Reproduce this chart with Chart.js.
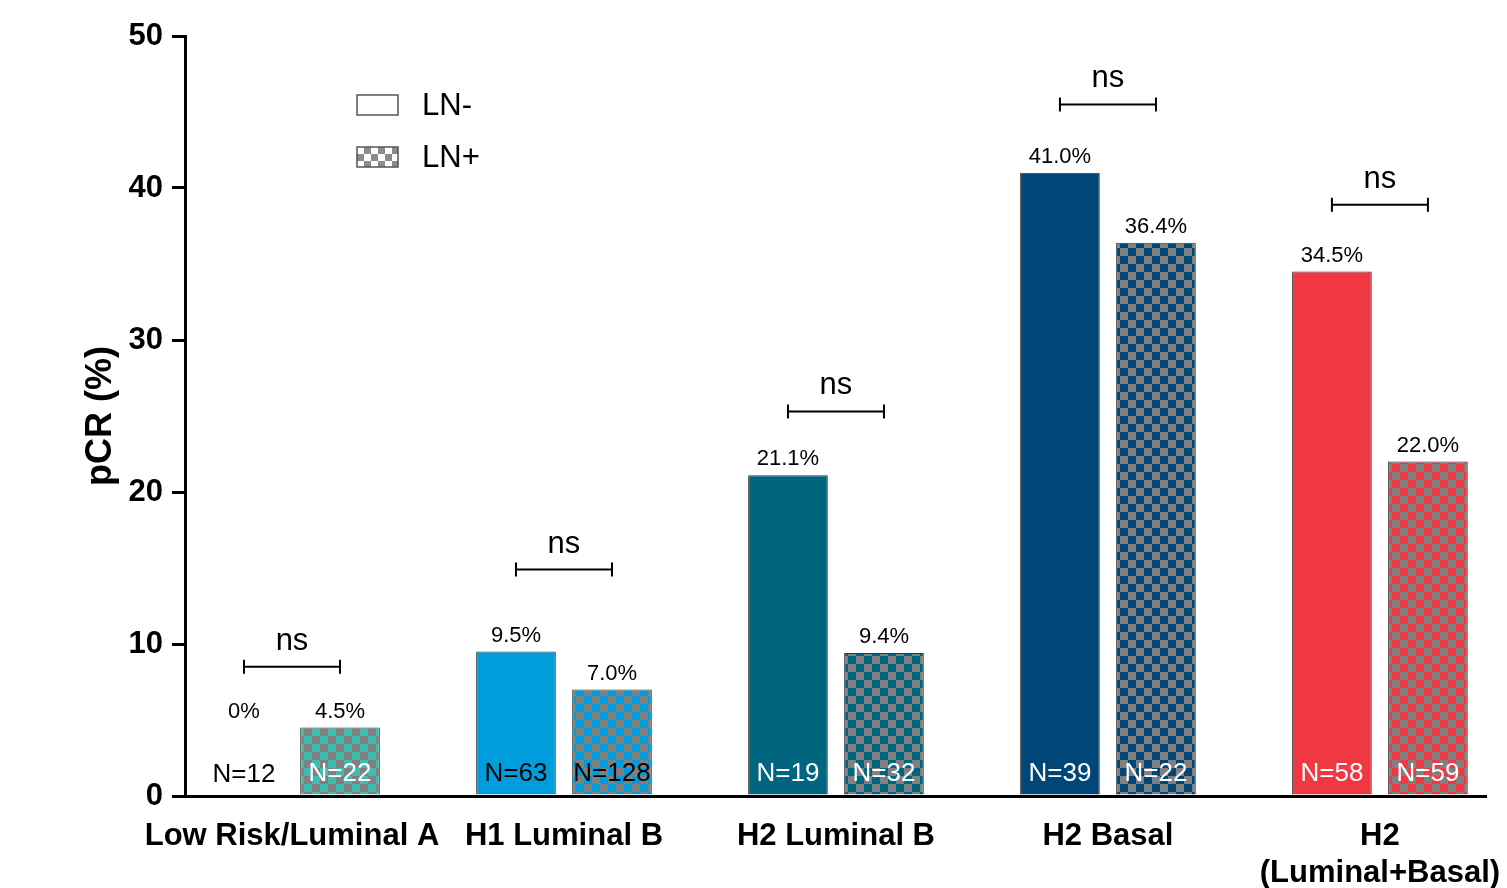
<!DOCTYPE html>
<html>
<head>
<meta charset="utf-8">
<title>pCR by subtype and LN status</title>
<script src="https://cdn.jsdelivr.net/npm/chart.js@4.4.1/dist/chart.umd.min.js"></script>
<style>
  html, body { margin: 0; padding: 0; background: #ffffff; }
  #chart-pcr { display: block; }
</style>
</head>
<body>
<canvas id="chart-pcr" width="1507" height="888"></canvas>
<script>
// Categories (x axis groups)
const categories = ['Low Risk/Luminal A', 'H1 Luminal B', 'H2 Luminal B', 'H2 Basal', ['H2', '(Luminal+Basal)']];

// pCR (%) per group
const lnNegValues = [0, 9.5, 21.1, 41.0, 34.5];
const lnPosValues = [4.5, 7.0, 9.4, 36.4, 22.0];

// Patients per bar
const lnNegCounts = [12, 63, 19, 39, 58];
const lnPosCounts = [22, 128, 32, 22, 59];

// Significance brackets (label + height in pCR units)
const sigLabels = ['ns', 'ns', 'ns', 'ns', 'ns'];
const sigHeights = [8.5, 14.9, 25.3, 45.5, 38.9];

// Y axis ticks
const yTicks = [0, 10, 20, 30, 40, 50];

// Group colours and N label colours
const groupColors = ['#3fbcb0', '#009ddc', '#00657f', '#004677', '#ef3842'];
const lnNegCountColors = ['#000000', '#000000', '#ffffff', '#ffffff', '#ffffff'];
const lnPosCountColors = ['#ffffff', '#000000', '#ffffff', '#ffffff', '#ffffff'];

const checkerGray = '#808080';
const fontFamily = "'Liberation Sans', Arial, Helvetica, sans-serif";

/**
 * Builds a checkerboard fill (colour squares on grey)
 */
function makeChecker(color, gray, cell) {
  const tile = document.createElement('canvas');
  tile.width = cell * 2;
  tile.height = cell * 2;
  const t = tile.getContext('2d');
  t.fillStyle = gray;
  t.fillRect(0, 0, cell * 2, cell * 2);
  t.fillStyle = color;
  t.fillRect(0, 0, cell, cell);
  t.fillRect(cell, cell, cell, cell);
  return document.getElementById('chart-pcr').getContext('2d').createPattern(tile, 'repeat');
}

function formatPct(v) {
  return v === 0 ? '0%' : v.toFixed(1) + '%';
}

// Value labels, N labels and significance brackets
const annotationPlugin = {
  id: 'annotations',
  afterDatasetsDraw(chart) {
    const ctx = chart.ctx;
    const yScale = chart.scales.y;
    const negBars = chart.getDatasetMeta(0).data;
    const posBars = chart.getDatasetMeta(1).data;
    const sets = [
      { bars: negBars, values: lnNegValues, counts: lnNegCounts, colors: lnNegCountColors, other: posBars },
      { bars: posBars, values: lnPosValues, counts: lnPosCounts, colors: lnPosCountColors, other: negBars }
    ];

    ctx.save();
    ctx.textAlign = 'center';

    sets.forEach(set => {
      set.bars.forEach((bar, i) => {
        // percentage above bar (zero bars share the partner's height)
        const topY = set.values[i] === 0 ? set.other[i].y : bar.y;
        ctx.fillStyle = '#000000';
        ctx.font = `22px ${fontFamily}`;
        ctx.textBaseline = 'alphabetic';
        ctx.fillText(formatPct(set.values[i]), bar.x, topY - 10);

        // N= inside bar foot
        ctx.fillStyle = set.colors[i];
        ctx.font = `26px ${fontFamily}`;
        ctx.textBaseline = 'middle';
        ctx.fillText('N=' + set.counts[i], bar.x, bar.base - 21);
      });
    });

    // brackets
    ctx.strokeStyle = '#000000';
    ctx.lineWidth = 2;
    negBars.forEach((bar, i) => {
      const x1 = bar.x;
      const x2 = posBars[i].x;
      const y = yScale.getPixelForValue(sigHeights[i]);
      ctx.beginPath();
      ctx.moveTo(x1, y);
      ctx.lineTo(x2, y);
      ctx.moveTo(x1, y - 7);
      ctx.lineTo(x1, y + 7);
      ctx.moveTo(x2, y - 7);
      ctx.lineTo(x2, y + 7);
      ctx.stroke();

      ctx.fillStyle = '#000000';
      ctx.font = `31px ${fontFamily}`;
      ctx.textBaseline = 'alphabetic';
      ctx.fillText(sigLabels[i], (x1 + x2) / 2, y - 17);
    });

    ctx.restore();
  }
};

// Legend drawn inside the plot area
const legendPlugin = {
  id: 'insideLegend',
  afterDraw(chart) {
    const ctx = chart.ctx;
    const items = [
      { label: 'LN-', fill: '#ffffff' },
      { label: 'LN+', fill: makeChecker('#ffffff', '#8c8c8c', 7) }
    ];
    ctx.save();
    items.forEach((item, i) => {
      const y = 95 + i * 52;
      ctx.fillStyle = item.fill;
      ctx.fillRect(357, y, 41, 20);
      ctx.strokeStyle = '#555555';
      ctx.lineWidth = 1.5;
      ctx.strokeRect(357, y, 41, 20);
      ctx.fillStyle = '#000000';
      ctx.font = `31px ${fontFamily}`;
      ctx.textAlign = 'left';
      ctx.textBaseline = 'middle';
      ctx.fillText(item.label, 422, y + 11);
    });
    ctx.restore();
  }
};

function initPcrChart() {
  const canvas = document.getElementById('chart-pcr');

  const negData = lnNegValues.map((v, i) => ({ x: i, y: v }));
  const posData = lnPosValues.map((v, i) => ({ x: i, y: v }));

  new Chart(canvas, {
    type: 'bar',
    data: {
      datasets: [
        {
          label: 'LN-',
          data: negData,
          backgroundColor: groupColors,
          borderColor: '#3a3a3a',
          borderWidth: 1
        },
        {
          label: 'LN+',
          data: posData,
          backgroundColor: groupColors.map(c => makeChecker(c, checkerGray, 8)),
          borderColor: '#3a3a3a',
          borderWidth: 1
        }
      ]
    },
    options: {
      responsive: false,
      animation: false,
      categoryPercentage: 0.706,
      barPercentage: 0.83,
      layout: { padding: { left: 0, top: 36, right: 21, bottom: 0 } },
      plugins: {
        legend: { display: false },
        tooltip: { enabled: false }
      },
      scales: {
        x: {
          type: 'linear',
          offset: false,
          min: -0.3934,
          max: 4.39,
          afterBuildTicks: scale => {
            scale.ticks = categories.map((c, i) => ({ value: i }));
          },
          afterFit: scale => {
            scale.height = 92;
            // long last label may overhang the plot edge, as in the original
            scale.paddingLeft = 0;
            scale.paddingRight = 0;
          },
          grid: { display: false, drawTicks: false },
          border: { display: true, color: '#000000', width: 3 },
          ticks: {
            autoSkip: false,
            maxRotation: 0,
            minRotation: 0,
            padding: 22,
            color: '#000000',
            font: { family: fontFamily, size: 31, weight: 'bold', lineHeight: 1.2 },
            callback: value => categories[value]
          }
        },
        y: {
          min: 0,
          max: 50,
          afterBuildTicks: scale => {
            scale.ticks = yTicks.map(v => ({ value: v }));
          },
          afterFit: scale => { scale.width = 185; },
          grid: {
            drawOnChartArea: false,
            drawTicks: true,
            tickLength: 13,
            color: '#000000',
            lineWidth: 3
          },
          border: { display: true, color: '#000000', width: 3 },
          ticks: {
            padding: 9,
            color: '#000000',
            font: { family: fontFamily, size: 31, weight: 'bold' }
          },
          title: {
            display: true,
            text: 'pCR (%)',
            color: '#000000',
            font: { family: fontFamily, size: 36, weight: 'bold' },
            padding: { top: 79, bottom: 0 }
          }
        }
      }
    },
    plugins: [annotationPlugin, legendPlugin]
  });
}

document.addEventListener('DOMContentLoaded', initPcrChart);
</script>
</body>
</html>
